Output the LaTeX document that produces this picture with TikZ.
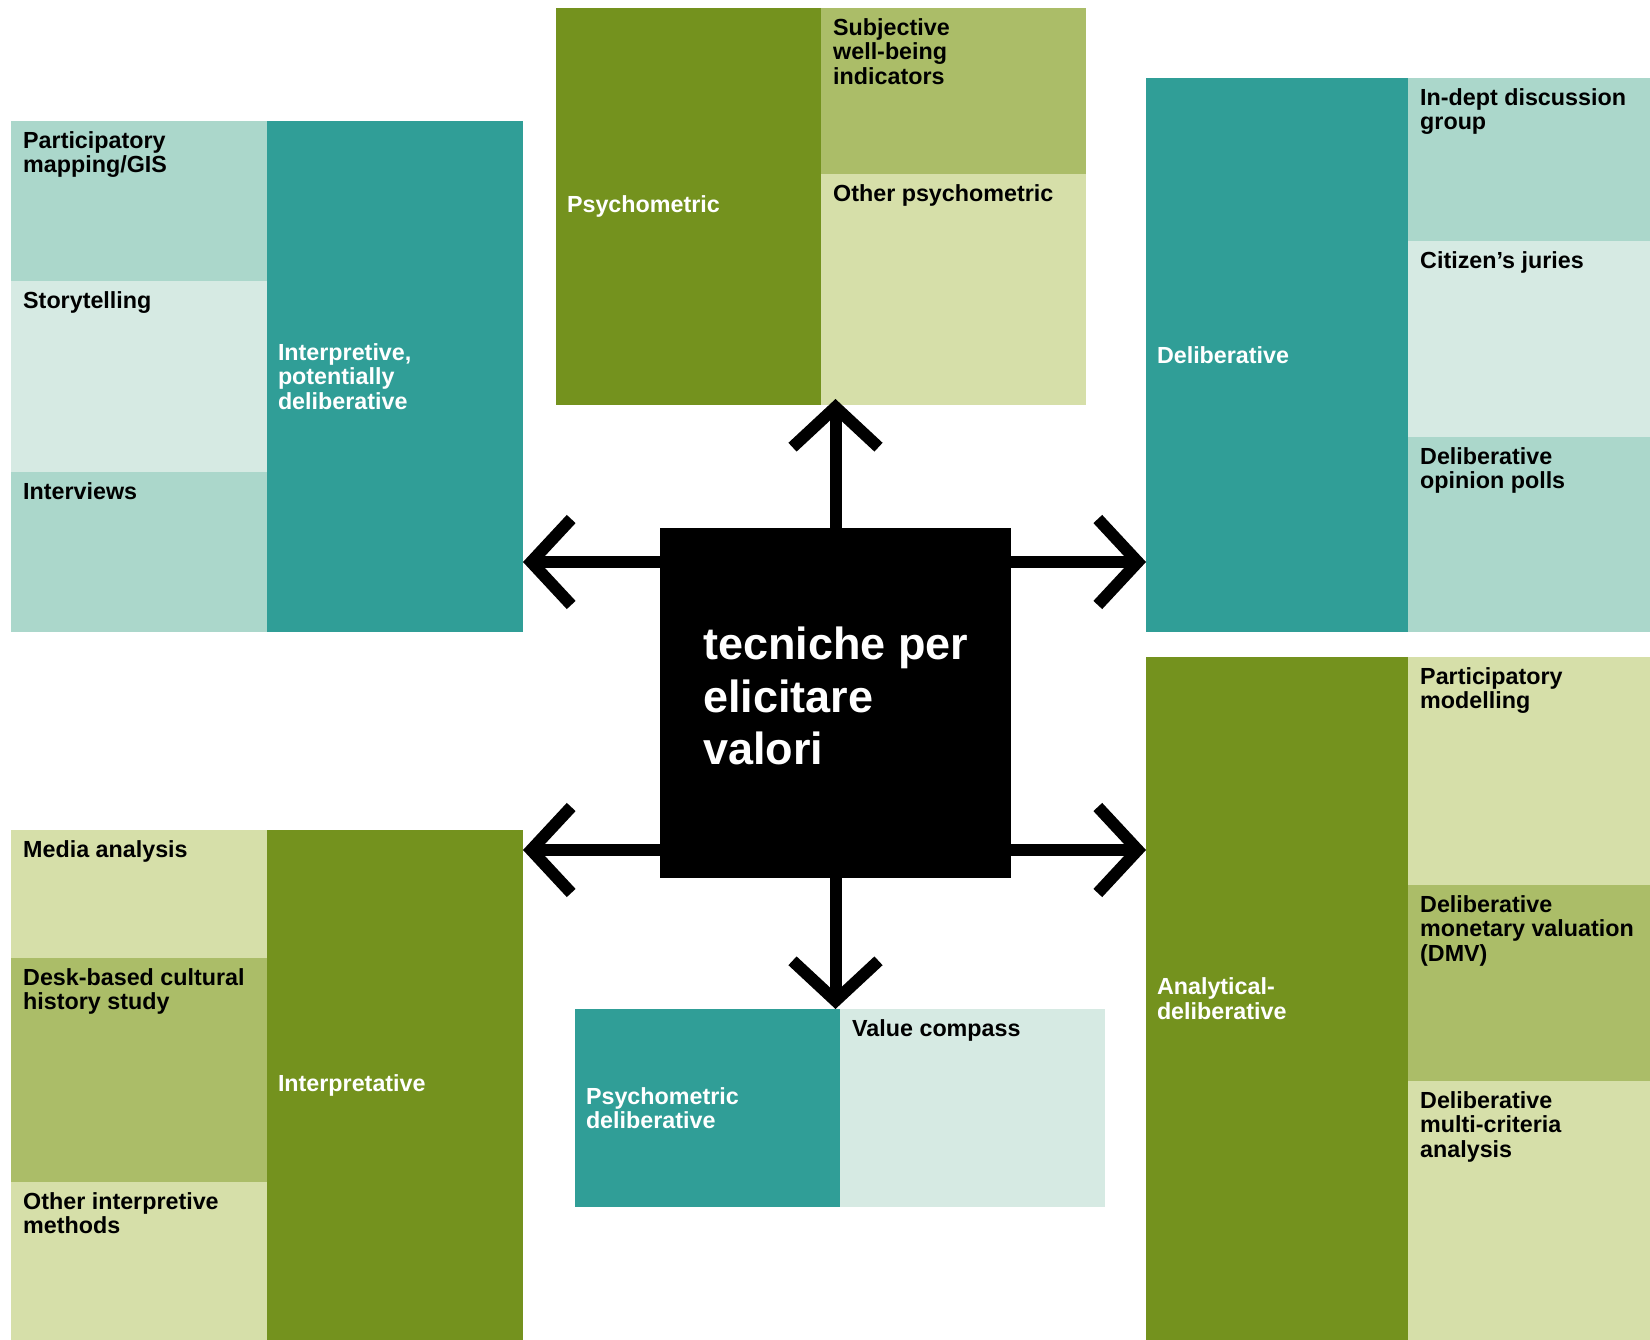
\documentclass[tikz,border=0pt]{standalone}
\usepackage{fontspec}
\setmainfont{Liberation Sans}
\usetikzlibrary{arrows.meta}
\definecolor{tealD}{RGB}{48,158,151}
\definecolor{tealM}{RGB}{171,215,203}
\definecolor{tealL}{RGB}{214,234,227}
\definecolor{greenD}{RGB}{116,146,30}
\definecolor{greenM}{RGB}{171,189,104}
\definecolor{greenL}{RGB}{214,223,169}
\newcommand{\labfont}{\fontsize{23.3pt}{24.5pt}\selectfont\bfseries}
\newcommand{\corefont}{\fontsize{45pt}{52.6pt}\selectfont\bfseries}

\begin{document}
\begin{tikzpicture}[x=1pt, y=-1pt,
    cell/.style={anchor=north west, inner sep=0pt, outer sep=0pt, fill=#1},
    catbox/.style={cell=#1, text=white, font=\labfont, align=left, inner xsep=11pt},
    itemtext/.style={anchor=north west, inner xsep=12pt, inner ysep=10pt,
      font=\labfont, align=left},
    arr/.style={line width=12pt, -{Straight Barb[length=40pt, width=86pt]}}]
  \useasboundingbox (0,0) rectangle (1650,1340);

  \node[cell=black, minimum width=351pt, minimum height=350pt] (core) at (660,528) {};
  \node[anchor=west, inner sep=0pt, text=white, font=\corefont, align=left]
    (coretxt) at ([xshift=43pt, yshift=7pt]core.west) {tecniche per\\elicitare\\valori};

  % top left
  \node[catbox=tealD, text width=234pt, minimum height=511pt] (intpot) at (267,121)
    {Interpretive,\\potentially\\deliberative};
  \foreach \n/\y/\h/\col/\lbl in {pmap/121/160/tealM/{Participatory\\mapping/GIS},
      story/281/191/tealL/{Storytelling}, interv/472/160/tealM/{Interviews}}
    \node[cell=\col, minimum width=256pt, minimum height=\h pt,
      label={[itemtext]north west:\lbl}] (\n) at (11,\y) {};

  % top
  \node[catbox=greenD, text width=243pt, minimum height=397pt] (psy) at (556,8)
    {Psychometric};
  \foreach \n/\y/\h/\col/\lbl in {swb/8/166/greenM/{Subjective\\well-being\\indicators},
      opsy/174/231/greenL/{Other psychometric}}
    \node[cell=\col, minimum width=265pt, minimum height=\h pt,
      label={[itemtext]north west:\lbl}] (\n) at (821,\y) {};

  % top right
  \node[catbox=tealD, text width=240pt, minimum height=554pt] (delib) at (1146,78)
    {Deliberative};
  \foreach \n/\y/\h/\col/\lbl in {indept/78/163/tealM/{In-dept discussion\\group},
      cjur/241/196/tealL/{Citizen’s juries}, dop/437/195/tealM/{Deliberative\\opinion polls}}
    \node[cell=\col, minimum width=242pt, minimum height=\h pt,
      label={[itemtext]north west:\lbl}] (\n) at (1408,\y) {};

  % bottom left
  \node[catbox=greenD, text width=234pt, minimum height=510pt] (interp) at (267,830)
    {Interpretative};
  \foreach \n/\y/\h/\col/\lbl in {media/830/128/greenL/{Media analysis},
      desk/958/224/greenM/{Desk-based cultural\\history study},
      oint/1182/158/greenL/{Other interpretive\\methods}}
    \node[cell=\col, minimum width=256pt, minimum height=\h pt,
      label={[itemtext]north west:\lbl}] (\n) at (11,\y) {};

  % bottom right
  \node[catbox=greenD, text width=240pt, minimum height=683pt] (anadel) at (1146,657)
    {Analytical-\\deliberative};
  \foreach \n/\y/\h/\col/\lbl in {pmod/657/228/greenL/{Participatory\\modelling},
      dmv/885/196/greenM/{Deliberative\\monetary valuation\\(DMV)},
      dmca/1081/259/greenL/{Deliberative\\multi-criteria\\analysis}}
    \node[cell=\col, minimum width=242pt, minimum height=\h pt,
      label={[itemtext]north west:\lbl}] (\n) at (1408,\y) {};

  % bottom
  \node[catbox=tealD, text width=243pt, minimum height=198pt] (psydel) at (575,1009)
    {Psychometric\\deliberative};
  \node[cell=tealL, minimum width=265pt, minimum height=198pt,
    label={[itemtext]north west:Value compass}] (vcomp) at (840,1009) {};

  \coordinate (hi) at (0,562);
  \coordinate (lo) at (0,850);
  \draw[arr, shorten >=-6pt] (core.north) -- (core.north |- psy.south);
  \draw[arr] (core.south) -- (core.south |- psydel.north);
  \draw[arr] (core.west |- hi) -- (intpot.east |- hi);
  \draw[arr] (core.west |- lo) -- (interp.east |- lo);
  \draw[arr] (core.east |- hi) -- (delib.west |- hi);
  \draw[arr] (core.east |- lo) -- (anadel.west |- lo);
\end{tikzpicture}
\end{document}
